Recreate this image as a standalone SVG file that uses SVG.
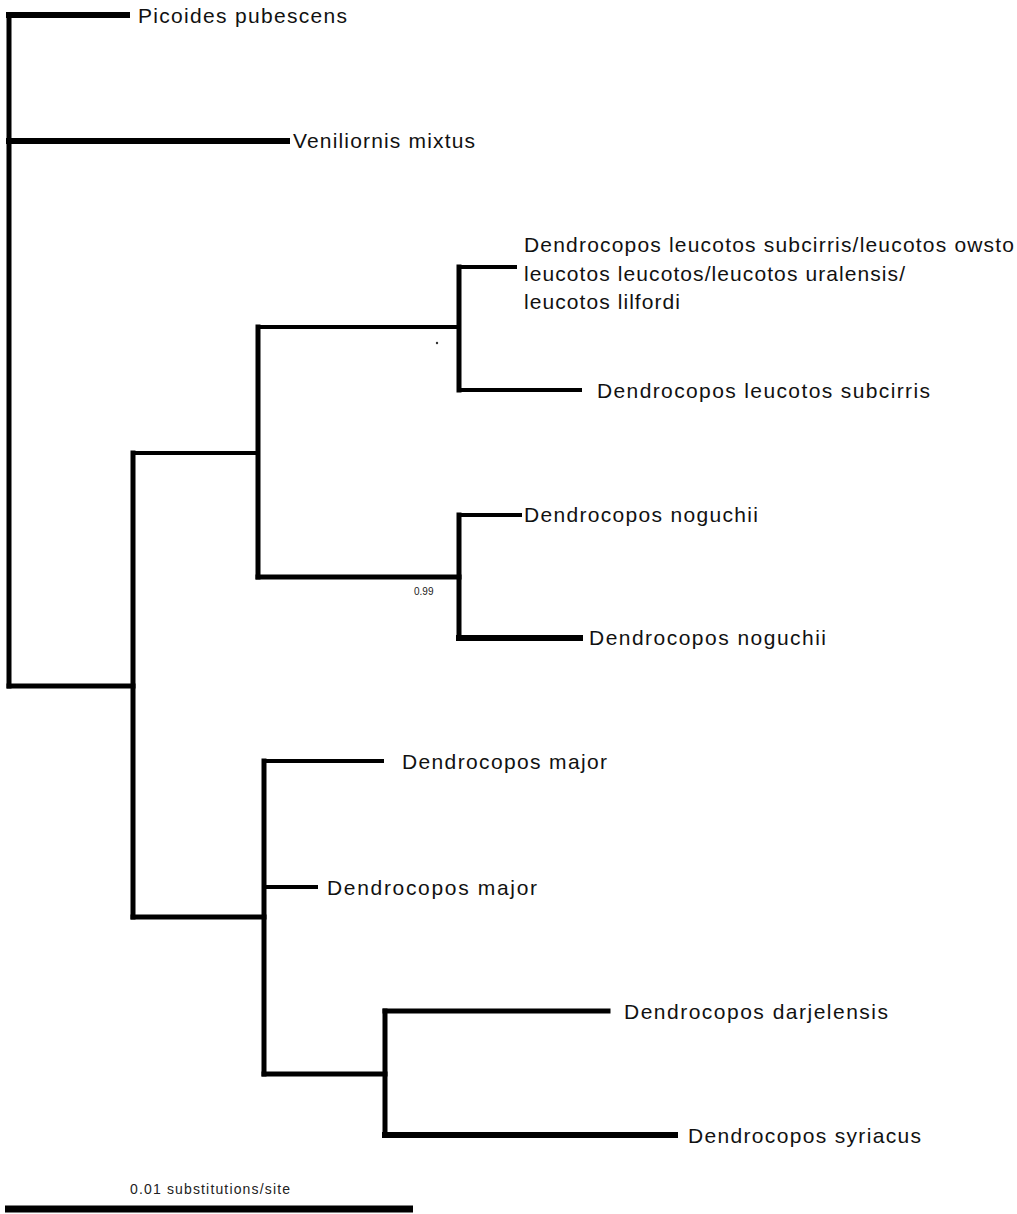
<svg xmlns="http://www.w3.org/2000/svg" width="1017" height="1214" viewBox="0 0 1017 1214">
<style>
.br{fill:none;stroke:#000;stroke-linecap:square;stroke-width:5}
.t4{stroke-width:4}
.t6{stroke-width:6}
.lab{font-family:"Liberation Sans",Arial,sans-serif;font-size:21px;fill:#111}
.sm{font-family:"Liberation Sans",Arial,sans-serif;font-size:10px;fill:#222}
</style>
<rect width="1017" height="1214" fill="#fff"/>
<g id="connectors">
<path class="br" d="M9,15 V686"/>
<path class="br t6" d="M9,15 H127"/>
<path class="br t6" d="M9,141 H287"/>
<path class="br" d="M9,686 H133"/>
<path class="br" d="M133,453 V917"/>
<path class="br t4" d="M133,453 H258"/>
<path class="br" d="M258,327 V577"/>
<path class="br t4" d="M258,327 H459"/>
<path class="br" d="M459,267 V390"/>
<path class="br t4" d="M459,267 H515"/>
<path class="br t4" d="M459,390 H580"/>
<path class="br" d="M258,577 H459"/>
<path class="br" d="M459,515 V638"/>
<path class="br t4" d="M459,515 H520"/>
<path class="br t6" d="M459,638 H580"/>
<path class="br" d="M133,917 H264"/>
<path class="br" d="M264,761 V1074"/>
<path class="br t4" d="M264,761 H382"/>
<path class="br t4" d="M264,887 H316"/>
<path class="br" d="M264,1074 H385"/>
<path class="br" d="M385,1011 V1135"/>
<path class="br" d="M385,1011 H608"/>
<path class="br t6" d="M385,1135 H675"/>
<circle cx="437" cy="343" r="1.2" fill="#333"/>
</g>
<g id="n-picoides"><text class="lab" x="138" y="23" textLength="209" lengthAdjust="spacing">Picoides pubescens</text></g>
<g id="n-veniliornis"><text class="lab" x="293" y="148" textLength="182" lengthAdjust="spacing">Veniliornis mixtus</text></g>
<g id="n-leucotos-multi">
<text class="lab" x="524" y="252" textLength="490" lengthAdjust="spacing">Dendrocopos leucotos subcirris/leucotos owsto</text>
<text class="lab" x="524" y="281" textLength="381" lengthAdjust="spacing">leucotos leucotos/leucotos uralensis/</text>
<text class="lab" x="524" y="309" textLength="156" lengthAdjust="spacing">leucotos lilfordi</text>
</g>
<g id="n-leucotos"><text class="lab" x="597" y="398" textLength="333" lengthAdjust="spacing">Dendrocopos leucotos subcirris</text></g>
<g id="n-noguchii-1"><text class="lab" x="524" y="522" textLength="234" lengthAdjust="spacing">Dendrocopos noguchii</text></g>
<g id="n-noguchii-2"><text class="lab" x="589" y="645" textLength="237" lengthAdjust="spacing">Dendrocopos noguchii</text></g>
<g id="n-support"><text class="sm" x="414" y="595">0.99</text></g>
<g id="n-major-1"><text class="lab" x="402" y="769" textLength="205" lengthAdjust="spacing">Dendrocopos major</text></g>
<g id="n-major-2"><text class="lab" x="327" y="895" textLength="210" lengthAdjust="spacing">Dendrocopos major</text></g>
<g id="n-darjelensis"><text class="lab" x="624" y="1019" textLength="264" lengthAdjust="spacing">Dendrocopos darjelensis</text></g>
<g id="n-syriacus"><text class="lab" x="688" y="1143" textLength="233" lengthAdjust="spacing">Dendrocopos syriacus</text></g>
<g id="scale">
<text class="sm" x="130" y="1194" style="font-size:14px" textLength="160" lengthAdjust="spacing">0.01 substitutions/site</text>
<path class="br" style="stroke-width:7;stroke-linecap:butt" d="M5,1209 H413"/>
</g>
</svg>
